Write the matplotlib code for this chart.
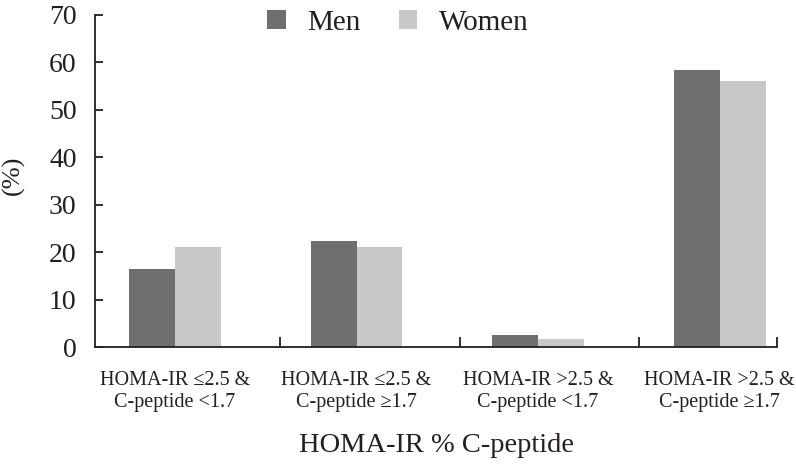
import matplotlib.pyplot as plt
import numpy as np

categories = ['HOMA-IR \u22642.5 &\nC-peptide <1.7',
              'HOMA-IR \u22642.5 &\nC-peptide \u22651.7',
              'HOMA-IR >2.5 &\nC-peptide <1.7',
              'HOMA-IR >2.5 &\nC-peptide \u22651.7']
men = [16.6, 22.5, 2.6, 58.4]
women = [21.1, 21.1, 1.8, 56.0]

plt.rcParams['font.family'] = ['Liberation Serif', 'DejaVu Serif']
ink = '#231f20'

fig = plt.figure(figsize=(7.96, 4.67), dpi=100)
ax = fig.add_axes([0.119, 0.2559, 0.8576, 0.7126])

x = np.arange(len(categories))
w = 0.253
ax.bar(x - w / 2, men, w, color='#6f6f6f', label='Men')
ax.bar(x + w / 2, women, w, color='#c8c8c8', label='Women')

ax.set_xlim(-0.442, 3.318)
ax.set_ylim(0, 70)

for s in ['top', 'right']:
    ax.spines[s].set_visible(False)
for s in ['left', 'bottom']:
    ax.spines[s].set_color(ink)
    ax.spines[s].set_linewidth(1.3)

ax.set_yticks(range(0, 71, 10))
ax.tick_params(axis='y', direction='in', length=6, width=1.3, color=ink,
               labelsize=20, labelcolor=ink, pad=13)
ax.set_xticks(x)
ax.set_xticklabels(categories)
ax.tick_params(axis='x', which='major', length=0, labelsize=14.5,
               labelcolor=ink, pad=17)
ax.set_xticks([0.579, 1.57, 2.556, 3.318], minor=True)
ax.tick_params(axis='x', which='minor', direction='in', length=7,
               width=1.3, color=ink)

fig.text(0.548, 0.045, 'HOMA-IR % C-peptide', ha='center', va='center',
         fontsize=20.5, color=ink)
fig.text(0.017, 0.625, '(%)', rotation=90, ha='center', va='center',
         fontsize=19, color=ink)

fig.legend(loc='center', bbox_to_anchor=(0.5, 0.951), ncol=2, frameon=False,
           fontsize=21, handlelength=0.64, handleheight=0.64,
           columnspacing=1.3, handletextpad=0.75, labelcolor=ink)

fig.savefig('out.png', dpi=100)
